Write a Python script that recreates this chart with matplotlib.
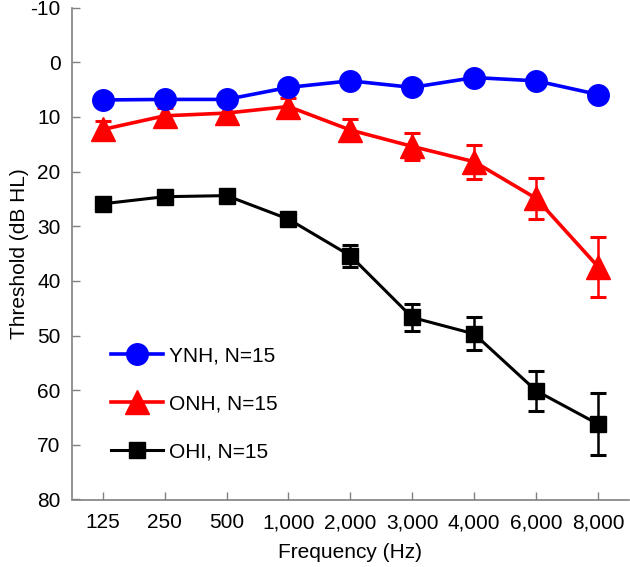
import matplotlib
matplotlib.use("Agg")
import matplotlib.pyplot as plt
import numpy as np

freq_labels = ["125", "250", "500", "1,000", "2,000", "3,000", "4,000", "6,000", "8,000"]
y_ticks = [-10, 0, 10, 20, 30, 40, 50, 60, 70, 80]

ynh_mean = [6.9, 6.8, 6.8, 4.6, 3.4, 4.6, 2.8, 3.4, 5.9]
ynh_err = [0.8, 0.8, 0.8, 0.8, 0.8, 0.8, 0.8, 1.0, 1.0]

onh_mean = [12.3, 9.8, 9.3, 8.1, 12.4, 15.4, 18.2, 24.9, 37.4]
onh_err = [1.6, 1.4, 1.4, 1.5, 2.0, 2.5, 3.1, 3.8, 5.5]

ohi_mean = [25.9, 24.6, 24.4, 28.7, 35.4, 46.7, 49.7, 60.1, 66.2]
ohi_err = [1.0, 0.8, 0.8, 0.9, 2.0, 2.5, 3.0, 3.7, 5.6]

plt.rcParams['font.family'] = ['Liberation Sans', 'DejaVu Sans']

fig = plt.figure(figsize=(6.3, 5.67), dpi=100)
ax = fig.add_axes([71.7 / 630, 1 - 499.5 / 567, (629 - 71.7) / 630, (499.5 - 7.6) / 567])

x = np.arange(len(freq_labels))

ax.errorbar(x, ynh_mean, yerr=ynh_err, color='#0000ff', marker='o', markersize=15.5,
            linewidth=2.6, elinewidth=1.8, capsize=5.5, capthick=2.2, label='YNH, N=15', zorder=3)
ax.errorbar(x, onh_mean, yerr=onh_err, color='#ff0000', marker='^', markersize=17.5,
            linewidth=2.6, elinewidth=1.8, capsize=5.5, capthick=2.2, label='ONH, N=15', zorder=2)
ax.errorbar(x, ohi_mean, yerr=ohi_err, color='#000000', marker='s', markersize=12,
            linewidth=2.2, elinewidth=1.8, capsize=5.5, capthick=2.2, label='OHI, N=15', zorder=2)

ax.set_xlim(-0.5, 8.5)
ax.set_ylim(80, -10)
ax.set_yticks(y_ticks)
ax.set_yticklabels([str(v) for v in y_ticks])
ax.set_xticks(x)
ax.set_xticklabels(freq_labels)

for s in ['top', 'right']:
    ax.spines[s].set_visible(False)
for s in ['left', 'bottom']:
    ax.spines[s].set_color('#808080')
    ax.spines[s].set_linewidth(1.2)

ax.tick_params(axis='both', direction='in', length=6, width=1.0, color='#808080',
               labelsize=15, labelcolor='black')
ax.tick_params(axis='y', pad=8)
ax.tick_params(axis='x', pad=10)

ax.set_xlabel('Frequency (Hz)', fontsize=15, labelpad=8)
ax.set_ylabel('Threshold (dB HL)', fontsize=15, labelpad=1)

handles, labels = ax.get_legend_handles_labels()
handles = [h[0] for h in handles]
leg = ax.legend(handles, labels, loc='lower left', bbox_to_anchor=(0.056, 0.06),
                frameon=False, fontsize=15, handlelength=2.5, labelspacing=1.4,
                handletextpad=0.25, borderaxespad=0)

fig.savefig('out.png', dpi=100)
